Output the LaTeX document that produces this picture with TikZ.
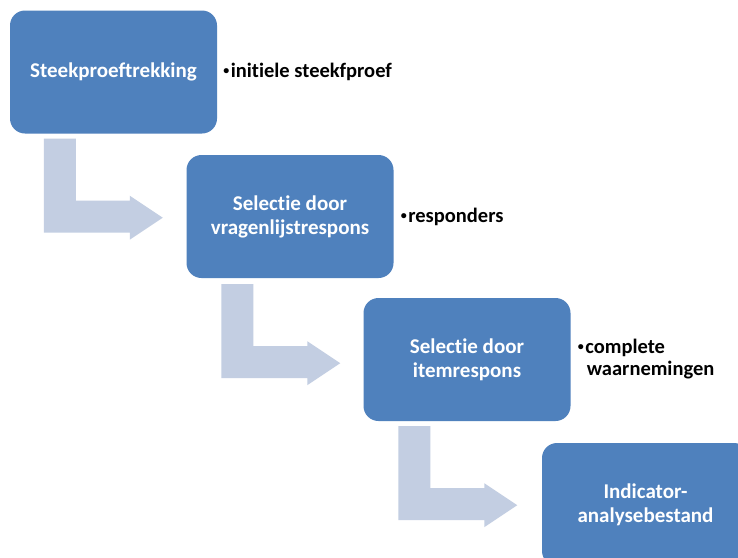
\documentclass[tikz,border=0pt]{standalone}
\usepackage{fontspec}
\setmainfont[Ligatures=NoCommon]{Carlito}
\usetikzlibrary{positioning}

\definecolor{boxblue}{HTML}{4F81BD}
\definecolor{arrowgray}{HTML}{C3CEE2}

\newcommand{\dotmark}{\raisebox{3pt}{\fontsize{12}{12}\selectfont•}\hspace{1.5pt}}

\tikzset{
  stepbox/.style={rectangle, rounded corners=15pt, fill=boxblue, text=white,
    minimum width=207pt, minimum height=123pt, align=center,
    font=\fontsize{21}{24}\selectfont\bfseries},
  note/.style={align=left, inner sep=0pt, font=\fontsize{20.5}{22}\selectfont\bfseries},
  bent/.pic={
    \fill[arrowgray] (0,0) -- (0,94) -- (86,94) -- (86,101) -- (119,79)
      -- (86,57) -- (86,62) -- (32,62) -- (32,0) -- cycle;
  }
}

\begin{document}
\begin{tikzpicture}[x=1pt,y=-1pt]
\useasboundingbox[fill=white] (0,0) rectangle (738,557);

% steps
\node[stepbox] (s1) at (113.5,72) {Steekproeftrekking};
\node[stepbox] (s2) at (290,216.5) {Selectie door\\vragenlijstrespons};
\node[stepbox] (s3) at (467,359.5) {Selectie door\\itemrespons};
\node[stepbox] (s4) at (645.5,504.5) {Indicator-\\analysebestand};

% bent arrows between the steps
\path ([shift={(34,5)}]s1.south west) pic {bent};
\path ([shift={(35,6)}]s2.south west) pic {bent};
\path ([shift={(35,5)}]s3.south west) pic {bent};

% results
\node[note, right=6pt of s1.east] (r1) {\dotmark initiele steekfproef};
\node[note, right=7pt of s2.east] (r2) {\dotmark responders};
\node[note, right=7pt of s3.east] (r3) {\dotmark complete\\\hspace*{9pt}waarnemingen};
\end{tikzpicture}
\end{document}
